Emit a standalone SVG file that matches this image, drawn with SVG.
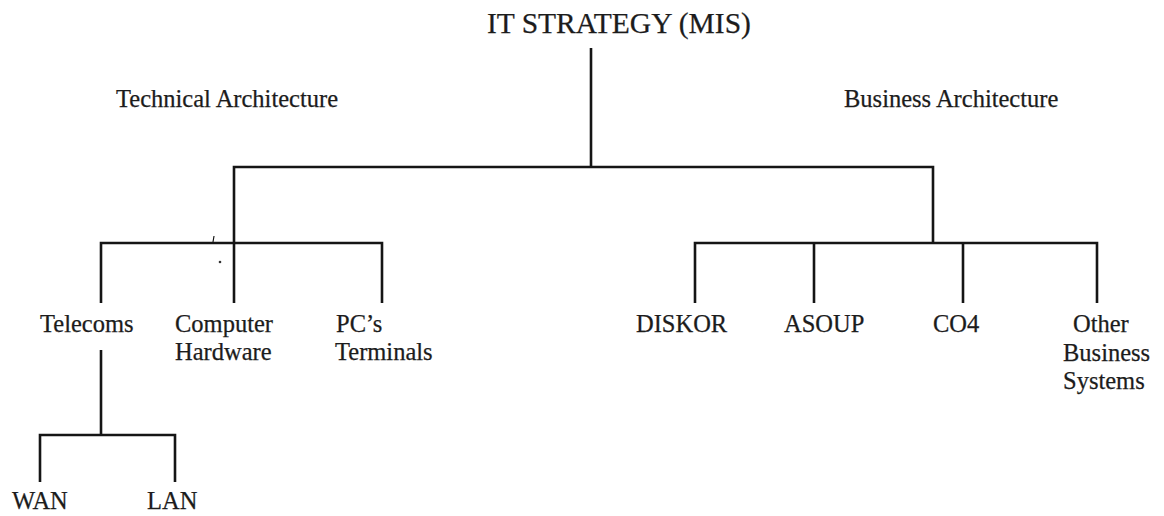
<svg xmlns="http://www.w3.org/2000/svg" width="1164" height="516" viewBox="0 0 1164 516">
  <style>
    .bg { fill: #ffffff; }
    .lbl { font-family: "Liberation Serif", "Times New Roman", serif; font-size: 24.5px; fill: #1c1c1c; stroke: #1c1c1c; stroke-width: 0.25px; }
    .title { font-size: 29.5px; }
    .link { fill: none; stroke: #151515; stroke-width: 2.6; stroke-linejoin: miter; stroke-linecap: butt; }
    .speck { fill: #333333; }
  </style>
  <rect class="bg" x="0" y="0" width="1164" height="516"/>

  <!-- tree connectors -->
  <g id="connectors">
    <path class="link" d="M591,48 V167"/>
    <path class="link" d="M234,243 V167 H933 V243"/>
    <!-- technical branch -->
    <path class="link" d="M101,303 V243 H382 V303"/>
    <path class="link" d="M234,243 V303"/>
    <!-- business branch -->
    <path class="link" d="M695,303 V243 H1097 V303"/>
    <path class="link" d="M814,243 V303"/>
    <path class="link" d="M963,243 V303"/>
    <!-- telecoms branch -->
    <path class="link" d="M101,350 V435"/>
    <path class="link" d="M40,482 V435 H175 V482"/>
  </g>

  <g id="node-root">
    <text class="lbl title" x="487" y="33">IT STRATEGY (MIS)</text>
  </g>
  <g id="node-technical">
    <text class="lbl" x="116" y="107">Technical Architecture</text>
  </g>
  <g id="node-business">
    <text class="lbl" x="844" y="107">Business Architecture</text>
  </g>

  <g id="node-telecoms">
    <text class="lbl" x="40" y="332">Telecoms</text>
  </g>
  <g id="node-hardware">
    <text class="lbl" x="175" y="332">Computer</text>
    <text class="lbl" x="175" y="360">Hardware</text>
  </g>
  <g id="node-terminals">
    <text class="lbl" x="336" y="332">PC’s</text>
    <text class="lbl" x="335" y="360">Terminals</text>
  </g>

  <g id="node-diskor">
    <text class="lbl" x="636" y="332">DISKOR</text>
  </g>
  <g id="node-asoup">
    <text class="lbl" x="784" y="332">ASOUP</text>
  </g>
  <g id="node-co4">
    <text class="lbl" x="933" y="332">CO4</text>
  </g>
  <g id="node-other">
    <text class="lbl" x="1073" y="332">Other</text>
    <text class="lbl" x="1063" y="361">Business</text>
    <text class="lbl" x="1063" y="389">Systems</text>
  </g>

  <g id="node-wan">
    <text class="lbl" x="12" y="509">WAN</text>
  </g>
  <g id="node-lan">
    <text class="lbl" x="147" y="509">LAN</text>
  </g>

  <!-- small marks near the technical bar -->
  <path class="link" d="M213,242 L214,236" style="stroke-width:1.2"/>
  <circle class="speck" cx="220" cy="262" r="1.3"/>
</svg>
